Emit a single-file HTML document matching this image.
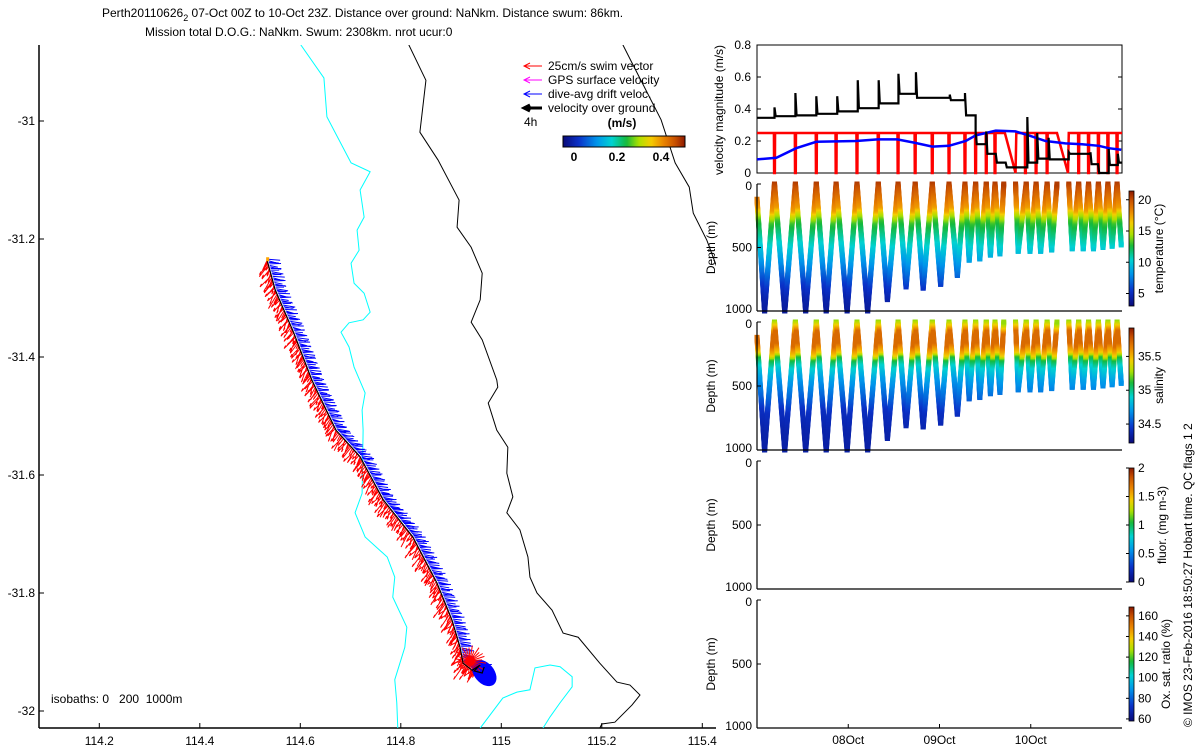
<!DOCTYPE html>
<html><head><meta charset="utf-8"><style>
body{margin:0;background:#fff;}
svg{display:block;font-family:"Liberation Sans",sans-serif;}
text{font-size:12px;fill:#000;}
</style></head><body>
<svg id="fig" width="1200" height="750" viewBox="0 0 1200 750" xmlns="http://www.w3.org/2000/svg">
<defs>
<clipPath id="mapclip"><rect x="39" y="45" width="677" height="683"/></clipPath>
</defs>
<g>
<text x="102" y="17">Perth20110626<tspan dy="4" font-size="9">2</tspan><tspan dy="-4"> 07-Oct 00Z to 10-Oct 23Z. Distance over ground: NaNkm. Distance swum: 86km.</tspan></text>
<text x="145" y="36">Mission total D.O.G.: NaNkm. Swum: 2308km. nrot ucur:0</text>
</g>
<g id="map"></g>
<g id="vel"></g>
<g id="prof"></g>
<text transform="translate(1192,727) rotate(-90)">© IMOS 23-Feb-2016 18:50:27 Hobart time. QC flags 1  2</text>
</svg>
<script>
// ---------- MAP DATA ----------
const lonTicks=[114.2,114.4,114.6,114.8,115,115.2,115.4];
const latTicks=[-31,-31.2,-31.4,-31.6,-31.8,-32];
const iso200Lon=[114.601,114.647,114.653,114.701,114.739,114.719,114.727,114.713,114.717,114.701,114.707,114.727,114.739,114.725,114.697,114.681,114.697,114.707,114.729,114.723,114.725,114.723,114.709,114.729,114.773,114.788,114.784,114.812,114.808,114.788,114.792,114.794];
const iso200Lat=[-30.871,-30.927,-30.993,-31.071,-31.086,-31.117,-31.163,-31.185,-31.219,-31.241,-31.275,-31.292,-31.324,-31.337,-31.342,-31.358,-31.383,-31.417,-31.461,-31.490,-31.524,-31.631,-31.664,-31.705,-31.739,-31.773,-31.807,-31.858,-31.892,-31.947,-31.986,-32.029];
const iso200bLon=[114.958,115.003,115.031,115.057,115.067,115.097,115.117,115.141,115.141,115.117,115.097,115.083];
const iso200bLat=[-32.029,-31.978,-31.968,-31.964,-31.927,-31.922,-31.925,-31.942,-31.959,-31.986,-32.010,-32.029];
const iso1000Lon=[114.816,114.850,114.838,114.874,114.916,114.912,114.940,114.962,114.958,114.940,114.962,114.991,114.993,114.974,114.991,115.013,115.011,115.023,115.011,115.037,115.053,115.057,115.071,115.101,115.123,115.153,115.196,115.230,115.256,115.276,115.260,115.226,115.200,115.196];
const iso1000Lat=[-30.871,-30.931,-31.019,-31.066,-31.134,-31.180,-31.214,-31.258,-31.303,-31.341,-31.371,-31.439,-31.451,-31.478,-31.524,-31.553,-31.597,-31.637,-31.664,-31.693,-31.739,-31.773,-31.800,-31.829,-31.868,-31.875,-31.919,-31.951,-31.956,-31.973,-31.990,-32.019,-32.022,-32.029];
const coastLon=[115.242,115.264,115.318,115.346,115.374,115.382,115.409,115.43];
const coastLat=[-30.871,-30.908,-30.998,-31.071,-31.112,-31.156,-31.202,-31.25];
const trackLon=[114.534,114.550,114.587,114.623,114.671,114.719,114.765,114.824,114.872,114.902,114.918,114.924,114.942,114.958];
const trackLat=[-31.236,-31.286,-31.359,-31.439,-31.524,-31.569,-31.642,-31.705,-31.783,-31.846,-31.892,-31.919,-31.931,-31.922];

// ---------- VELOCITY DATA (hours since 07-Oct 00Z) ----------
const vogHours=[0,4.6,10.1,15.6,21.1,26.5,32,37.2,41.8,50.7,54.7,57.5,60.3,62.8,65.4,71.1,73.7,76.7,82,87.7,89.7,92.5,94.9];
const vogLevels=[0.345,0.355,0.36,0.37,0.385,0.405,0.435,0.495,0.47,0.455,0.36,0.18,0.12,0.065,0.035,0.065,0.09,0.085,0.12,0.055,0.0,0.05,0.065];
const vogSpikes=[0.345,0.41,0.5,0.48,0.48,0.58,0.58,0.62,0.63,0.49,0.5,0.26,0.26,0.12,0.065,0.35,0.25,0.22,0.13,0.13,0.055,0.15,0.12];
const swimDiveHours=[4.6,10.1,15.6,20.8,26.3,31.9,37.1,41.6,46.1,50.5,54.7,57.5,60.3,62.6,70.6,73.4,76.3,84.6,87.2,89.8,92.3,94.7];
const swimSlopeStart=[65.2,78.9];
const swimSlopeEnd=[68.0,81.8];
const driftHours=[0,5.1,10.3,15.6,26.1,31.7,36.9,41.3,46.1,50.5,54.9,57.5,60.2,62.8,68,71.5,75.9,81.1,85.5,89.9,92.5,95.8];
const driftVals=[0.085,0.095,0.155,0.195,0.2,0.21,0.21,0.19,0.165,0.17,0.2,0.235,0.25,0.265,0.26,0.235,0.2,0.185,0.18,0.17,0.155,0.145];

// ---------- GLIDER YO DATA ----------
const yoHours=[0,2.0,4.6,7.3,10.1,12.8,15.6,18.2,20.8,23.7,26.3,29.1,31.9,34.3,37.1,39.2,41.6,43.7,46.1,48.3,50.5,52.7,54.7,55.8,57.5,58.6,60.3,61.4,62.6,63.9,64.9,66.3,68.0,68.7,70.8,71.8,73.4,74.6,76.3,77.5,78.9,80.5,82.0,82.9,84.6,85.8,87.2,88.5,89.8,91.0,92.3,93.4,94.7,95.8];
const yoDepths=[120,1000,0,1000,0,1000,0,1000,0,1000,0,1000,0,910,0,810,0,820,0,790,0,720,0,600,0,590,0,560,0,550,0,540,0,530,0,530,0,530,0,520,0,500,0,510,0,510,0,510,0,500,0,490,0,480];
const yoValid=[1,1,1,1,1,1,1,1,1,1,1,1,1,1,1,1,1,1,1,1,1,1,1,1,1,1,1,1,1,1,0,0,1,1,1,1,1,1,1,1,0,0,1,1,1,1,1,1,1,1,1,1,1];
const tempDepths=[0,100,200,250,300,400,500,600,700,800,900,1000];
const tempVals=[20.5,19,17.5,15,13,11.5,10,8.5,7,5.5,4.5,4];
const salDepths=[0,40,80,180,250,290,350,450,600,700,850,1000];
const salVals=[35.25,35.45,35.7,35.7,35.45,35.1,34.9,34.72,34.55,34.42,34.36,34.34];
const tempCbarTicks=[5,10,15,20];
const salCbarTicks=[34.5,35,35.5];
const fluorCbarTicks=[0,0.5,1,1.5,2];
const oxCbarTicks=[60,80,100,120,140,160];
const dayTicks=[24,48,72];
const dayLabels=["08Oct","09Oct","10Oct"];
const velTicks=[0,0.2,0.4,0.6,0.8];
const depthTicks=[0,500,1000];

const NS="http://www.w3.org/2000/svg";
function el(tag,attrs,parent){const e=document.createElementNS(NS,tag);for(const k in attrs)e.setAttribute(k,attrs[k]);parent.appendChild(e);return e;}
function txt(s,attrs,parent){const e=el('text',attrs,parent);e.textContent=s;return e;}
const cmapPos=[0,0.13,0.28,0.4,0.52,0.62,0.72,0.82,0.92,1];
const cmapCol=[[10,10,120],[10,50,200],[0,150,235],[0,210,210],[20,185,60],[170,225,0],[245,205,0],[235,135,0],[200,80,0],[140,25,0]];
function jet(v){v=Math.max(0,Math.min(1,v));let i=1;while(i<cmapPos.length-1&&v>cmapPos[i])i++;const f=(v-cmapPos[i-1])/(cmapPos[i]-cmapPos[i-1]);const a=cmapCol[i-1],b=cmapCol[i];return `rgb(${Math.round(a[0]+f*(b[0]-a[0]))},${Math.round(a[1]+f*(b[1]-a[1]))},${Math.round(a[2]+f*(b[2]-a[2]))})`;}
function interp(xs,ys,x){if(x<=xs[0])return ys[0];for(let i=1;i<xs.length;i++){if(x<=xs[i]){const f=(x-xs[i-1])/(xs[i]-xs[i-1]);return ys[i-1]+f*(ys[i]-ys[i-1]);}}return ys[ys.length-1];}

// ---------- MAP ----------
const map=document.getElementById('map');
const lx=lon=>39+(lon-114.08)*502.5;
const ly=lat=>121+(-31-lat)*590;
const mapAx=el('g',{},map);


el('line',{x1:39,y1:45,x2:39,y2:728,stroke:'#000','stroke-width':1.5},mapAx);
el('line',{x1:39,y1:728,x2:716,y2:728,stroke:'#000','stroke-width':1.5},mapAx);
lonTicks.forEach(v=>{const x=lx(v);el('line',{x1:x,y1:728,x2:x,y2:723,stroke:'#000'},mapAx);
 const t=txt(String(v),{x:x,y:745,'text-anchor':'middle'},mapAx);});
latTicks.forEach(v=>{const y=ly(v);el('line',{x1:39,y1:y,x2:44,y2:y,stroke:'#000'},mapAx);
 const t=txt(String(v),{x:35,y:y+4,'text-anchor':'end'},mapAx);});
const mg=el('g',{'clip-path':'url(#mapclip)'},map);
function poly(lons,lats,color,w,name){const p=el('polyline',{points:lons.map((v,i)=>lx(v)+','+ly(lats[i])).join(' '),fill:'none',stroke:color,'stroke-width':w},mg);return p;}
poly(iso200Lon,iso200Lat,'#00ffff',1,'isobath-200m');
poly(iso200bLon,iso200bLat,'#00ffff',1,'isobath-200m-south');
poly(iso1000Lon,iso1000Lat,'#000',1,'isobath-1000m');
poly(coastLon,coastLat,'#000',1,'coastline');
// track vectors
const tpts=trackLon.map((v,i)=>[lx(v),ly(trackLat[i])]);
const samples=[];
for(let i=1;i<tpts.length;i++){const [x0,y0]=tpts[i-1],[x1,y1]=tpts[i];const L=Math.hypot(x1-x0,y1-y0);const n=Math.max(1,Math.round(L/1.6));for(let k=0;k<n;k++){const f=k/n;samples.push([x0+f*(x1-x0),y0+f*(y1-y0)]);}}
const vecG=el('g',{},mg);


let dR='',dB='';
samples.forEach((p,j)=>{const a=Math.sin(j*1.7),b=Math.cos(j*2.3);
 const rl=9+8*Math.abs(Math.sin(j*0.77)*Math.cos(j*0.31));
 dR+=`M${p[0]},${p[1]}l${-rl*0.5+a*3},${rl*0.75+b*3}l1.5,-3`;
 dB+=`M${p[0]+1},${p[1]-1}l${10+b*2},${1+a*1.5}`;});
el('path',{d:dB,stroke:'#0000ff','stroke-width':1,fill:'none'},vecG);
el('path',{d:dR,stroke:'#ff0000','stroke-width':1,fill:'none'},vecG);
// end blob
const endP=tpts[tpts.length-1];
el('ellipse',{cx:endP[0]+4,cy:endP[1]+8,rx:10,ry:15,fill:'#0000ff',transform:`rotate(-40 ${endP[0]+4} ${endP[1]+8})`},vecG);
let dR2='';for(let j=0;j<28;j++){const ang=Math.PI*(0.4+j/14);const r=10+6*Math.abs(Math.sin(j*1.3));dR2+=`M${endP[0]-10},${endP[1]-4}l${Math.cos(ang)*r},${Math.sin(ang)*r}`;}
el('path',{d:dR2,stroke:'#ff0000','stroke-width':1,fill:'none'},vecG);
const trk=el('polyline',{points:tpts.map(p=>p.join(',')).join(' ')+` ${endP[0]-6},${endP[1]+6} ${endP[0]+2},${endP[1]+8} ${endP[0]+4},${endP[1]+2}`,fill:'none',stroke:'#000','stroke-width':1.2},mg);


el('rect',{x:tpts[0][0]-1,y:tpts[0][1]-3,width:3,height:4,fill:'#ffa500'},mg);
// legend
const lg=el('g',{},map);


[['25cm/s swim vector','#ff0000',1],['GPS surface velocity','#ff00ff',1],['dive-avg drift veloc.','#0000ff',1],['velocity over ground','#000',3]].forEach((e,i)=>{const y=66+i*14;
 el('line',{x1:525,y1:y,x2:542,y2:y,stroke:e[1],'stroke-width':e[2]},lg);
 el('path',{d:`M530,${y-3}L524,${y}L530,${y+3}`,stroke:e[1],'stroke-width':e[2],fill:'none'},lg);
 txt(e[0],{x:548,y:y+4},lg);});
txt('4h',{x:524,y:126},lg);
txt('(m/s)',{x:622,y:127,'text-anchor':'middle','font-weight':'bold'},lg);
const gr=el('linearGradient',{id:'jetH',x1:0,x2:1,y1:0,y2:0},document.querySelector('defs'));
const grv=el('linearGradient',{id:'jetV',x1:0,x2:0,y1:1,y2:0},document.querySelector('defs'));
for(let i=0;i<=40;i++){el('stop',{offset:i/40,'stop-color':jet(i/40)},gr);el('stop',{offset:i/40,'stop-color':jet(i/40)},grv);}
el('rect',{x:563,y:136,width:122,height:11,fill:'url(#jetH)',stroke:'#000'},lg);
[[0,574],[0.2,617],[0.4,661]].forEach(t=>txt(String(t[0]),{x:t[1],y:161,'text-anchor':'middle','font-weight':'bold'},lg));
const iso=txt('isobaths: 0   200  1000m',{x:51,y:703},map);


iso.style.whiteSpace='pre';

// ---------- VELOCITY PANEL ----------
const X0=757,X1=1122;
const tx=h=>X0+(h/96)*(X1-X0);
const vel=document.getElementById('vel');
const vy=v=>173-v*160;
el('rect',{x:X0,y:45,width:X1-X0,height:128,fill:'none',stroke:'#000'},vel);
velTicks.forEach(v=>{const y=vy(v);el('line',{x1:X0,y1:y,x2:X0+4,y2:y,stroke:'#000'},vel);el('line',{x1:X1,y1:y,x2:X1-4,y2:y,stroke:'#000'},vel);
 const t=txt(String(v),{x:751,y:y+4,'text-anchor':'end'},vel);});
const vl=txt('velocity magnitude (m/s)',{transform:'translate(723,110) rotate(-90)','text-anchor':'middle'},vel);


// red swim
let rp=[];
const events=[];swimDiveHours.forEach(h=>events.push(['d',h]));swimSlopeStart.forEach((h,i)=>events.push(['s',h,swimSlopeEnd[i]]));
events.sort((a,b)=>a[1]-b[1]);
rp.push([0,0.25]);
events.forEach(e=>{if(e[0]=='d'){rp.push([e[1]-0.15,0.25],[e[1]-0.1,0],[e[1]+0.1,0],[e[1]+0.15,0.25]);}else{rp.push([e[1],0.25],[e[2],0],[e[2]+0.2,0.25]);}});
rp.push([96,0.25]);
const rl=el('polyline',{points:rp.map(p=>tx(p[0])+','+vy(p[1])).join(' '),fill:'none',stroke:'#ff0000','stroke-width':2.5},vel);


// blue drift
const bl=el('polyline',{points:driftHours.map((h,i)=>tx(h)+','+vy(driftVals[i])).join(' '),fill:'none',stroke:'#0000ff','stroke-width':2.5},vel);


// black vog
let bp=[];
vogHours.forEach((h,i)=>{const nh=i+1<vogHours.length?vogHours[i+1]:96;bp.push([h,vogSpikes[i]],[h+0.3,vogLevels[i]],[nh,vogLevels[i]]);});
const kl=el('polyline',{points:bp.map(p=>tx(p[0])+','+vy(p[1])).join(' '),fill:'none',stroke:'#000','stroke-width':2.2},vel);



// ---------- PROFILE PANELS ----------
const prof=document.getElementById('prof');
const panels=[
 {top:184,bot:311,ct:191,cb:306,vmin:3,vmax:21.4,ticks:tempCbarTicks,label:'temperature (°C)',lx:1163,name:'temperature'},
 {top:322,bot:450,ct:328,cb:443,vmin:34.22,vmax:35.92,ticks:salCbarTicks,label:'salinity',lx:1163,name:'salinity'},
 {top:461,bot:589,ct:468,cb:582,vmin:0,vmax:2,ticks:fluorCbarTicks,label:'fluor. (mg m-3)',lx:1166,name:'fluorescence'},
 {top:600,bot:728,ct:607,cb:721,vmin:58,vmax:168.6,ticks:oxCbarTicks,label:'Ox. sat. ratio (%)',lx:1170,name:'oxygen'}];
panels.forEach((p,pi)=>{
 const g=el('g',{},prof);
 
 
 const dy=d=>p.top+d/1000*(p.bot-p.top);
 if(pi<2){
  const sg=el('g',{},g);
  
  
  for(let i=1;i<yoHours.length;i++){if(!yoValid[i-1])continue;
   const h0=yoHours[i-1],h1=yoHours[i],d0=yoDepths[i-1],d1=yoDepths[i];
   const n=Math.max(2,Math.round(Math.abs(d1-d0)/9));
   for(let k=0;k<=n;k++){const f=k/n;const h=h0+f*(h1-h0),d=d0+f*(d1-d0);
    const val=pi==0?interp(tempDepths,tempVals,d):interp(salDepths,salVals,d);
    el('rect',{x:tx(h)-2.5,y:dy(d)-2.5,width:5,height:5,fill:jet((val-p.vmin)/(p.vmax-p.vmin))},sg);}}
 }
 el('line',{x1:X0,y1:p.top,x2:X0,y2:p.bot,stroke:'#000','stroke-width':1.2},g);
 el('line',{x1:X0,y1:p.bot,x2:X1,y2:p.bot,stroke:'#000','stroke-width':1.2},g);
 depthTicks.forEach(d=>{const y=dy(d);el('line',{x1:X0,y1:y,x2:X0+4,y2:y,stroke:'#000'},g);
  const t=txt(String(d),{x:752,y:y+(d==0?6:d==1000?2:4),'text-anchor':'end'},g);});
 const dl=txt('Depth (m)',{transform:`translate(715,${(p.top+p.bot)/2}) rotate(-90)`,'text-anchor':'middle'},g);
 
 
 const cb=el('rect',{x:1129,y:p.ct,width:5,height:p.cb-p.ct,fill:'url(#jetV)',stroke:'#000','stroke-width':0.8},g);
 
 
 p.ticks.forEach(v=>{const y=p.cb-(v-p.vmin)/(p.vmax-p.vmin)*(p.cb-p.ct);el('line',{x1:1126,y1:y,x2:1129,y2:y,stroke:'#000'},g);
  const t=txt(String(v),{x:1138,y:y+4},g);});
 const cl=txt(p.label,{transform:`translate(${p.lx},${(p.ct+p.cb)/2}) rotate(-90)`,'text-anchor':'middle'},g);
 
 
 if(pi==3){dayTicks.forEach((h,i)=>{const x=tx(h);el('line',{x1:x,y1:p.bot,x2:x,y2:p.bot-4,stroke:'#000'},g);
  const t=txt(dayLabels[i],{x:x,y:744,'text-anchor':'middle'},g);});}
});
</script>
</body></html>
